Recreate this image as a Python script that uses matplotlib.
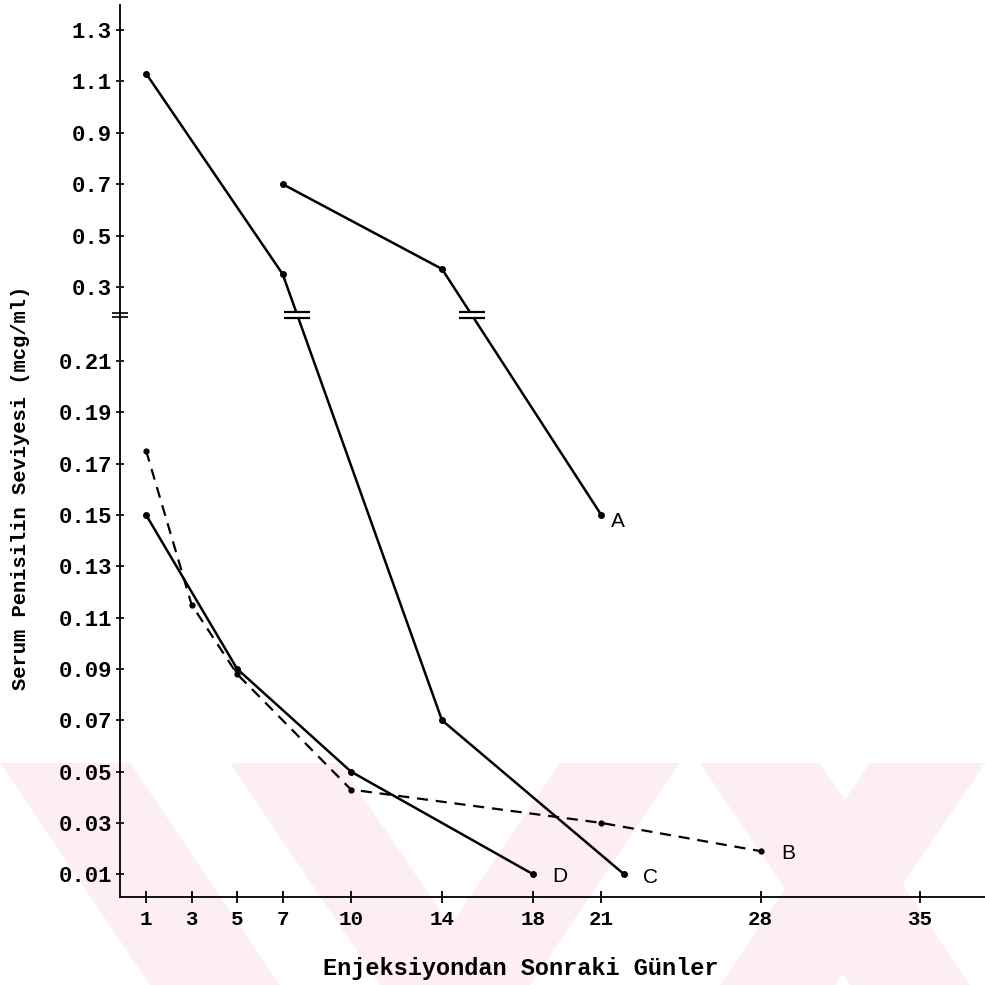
import numpy as np
import matplotlib
matplotlib.use("Agg")
import matplotlib.pyplot as plt
from matplotlib.path import Path
from matplotlib.patches import Polygon

# values
days_a = [7, 14, 21]
conc_a = [0.70, 0.37, 0.15]
days_b = [1, 3, 5, 10, 21, 28]
conc_b = [0.175, 0.115, 0.088, 0.043, 0.030, 0.019]
days_c = [1, 7, 14, 22]
conc_c = [1.13, 0.35, 0.07, 0.01]
days_d = [1, 5, 10, 18]
conc_d = [0.15, 0.09, 0.05, 0.01]

x_ticks = [1, 3, 5, 7, 10, 14, 18, 21, 28, 35]
y_ticks = [0.01, 0.03, 0.05, 0.07, 0.09, 0.11, 0.13, 0.15, 0.17, 0.19, 0.21,
           0.3, 0.5, 0.7, 0.9, 1.1, 1.3]
y_labels = ["0.01", "0.03", "0.05", "0.07", "0.09", "0.11", "0.13", "0.15",
            "0.17", "0.19", "0.21", "0.3", "0.5", "0.7", "0.9", "1.1", "1.3"]

# broken y axis: fine scale below the break, coarse scale above it
BRK = 0.228
LO_K = 2565.0
HI_K = 257.0
HI_BASE = 612.65


def fwd(v):
    v = np.asarray(v, dtype=float)
    return np.where(v <= BRK, v * LO_K, HI_BASE + (v - 0.3) * HI_K)


def inv(u):
    u = np.asarray(u, dtype=float)
    hi = np.maximum(0.3 + (u - HI_BASE) / HI_K, BRK)
    return np.where(u <= BRK * LO_K, u / LO_K, hi)


def crossing(days, vals):
    ub = fwd(BRK)
    for i in range(len(days) - 1):
        u0, u1 = fwd(vals[i]), fwd(vals[i + 1])
        if u0 > ub >= u1:
            t = (u0 - ub) / (u0 - u1)
            return days[i] + t * (days[i + 1] - days[i])
    return None


mono = "Liberation Mono"
fig = plt.figure(figsize=(9.85, 9.85), dpi=100)

# pale watermark stripes in the lower part of the page
wm_color = "#fdeef1"
bands = [
    [(0, 763), (130, 763), (280, 985), (150, 985)],
    [(230, 763), (340, 763), (490, 985), (380, 985)],
    [(560, 763), (680, 763), (530, 985), (410, 985)],
    [(700, 763), (820, 763), (970, 985), (850, 985)],
    [(870, 763), (985, 763), (835, 985), (720, 985)],
]
for b in bands:
    pts = [(px / 985, 1 - py / 985) for px, py in b]
    fig.patches.append(Polygon(pts, closed=True, transform=fig.transFigure,
                               facecolor=wm_color, edgecolor="none", zorder=-10))

ax = fig.add_axes([0.122, 0.089, 0.878, 0.906])
ax.set_zorder(1)
ax.patch.set_alpha(0)
ax.set_yscale("function", functions=(fwd, inv))
ax.set_xlim(-0.14, 37.86)
ax.set_ylim(0.001, 1.397)

lw = 1.8
ax.plot(days_c, conc_c, color="black", lw=lw, marker="o", ms=4)
ax.plot(days_a, conc_a, color="black", lw=lw, marker="o", ms=4)
ax.plot(days_d, conc_d, color="black", lw=lw, marker="o", ms=4)
ax.plot(days_b, conc_b, color="black", lw=1.6, ls=(0, (5, 3.5)), marker="o", ms=3.5)

off = [(days_a, conc_a, "A", (12, -5)), (days_b, conc_b, "B", (20, -2)),
       (days_c, conc_c, "C", (19, -2)), (days_d, conc_d, "D", (19, -1.5))]
for d, c, name, xy in off:
    ax.annotate(name, (d[-1], c[-1]), xytext=xy, textcoords="offset points",
                ha="center", va="center", fontsize=15, family="Liberation Sans")

# break marks on the lines and on the y axis
gap = Path([(-1, 0.2), (1, 0.2), (1, -0.2), (-1, -0.2), (-1, 0.2)],
           [Path.MOVETO, Path.LINETO, Path.LINETO, Path.LINETO, Path.CLOSEPOLY])
bars = Path([(-1, 0.2), (1, 0.2), (-1, -0.2), (1, -0.2)],
            [Path.MOVETO, Path.LINETO, Path.MOVETO, Path.LINETO])
for d, c in [(days_c, conc_c), (days_a, conc_a)]:
    xc = crossing(d, c)
    ax.plot([xc], [BRK], marker=gap, ms=19, mfc="white", mec="none", zorder=4)
    ax.plot([xc], [BRK], marker=bars, ms=19, mec="black", mew=1.6, zorder=5)
ax.plot([ax.get_xlim()[0]], [BRK], marker=bars, ms=12, mec="black", mew=1.2,
        zorder=5, clip_on=False)

for s in ["top", "right"]:
    ax.spines[s].set_visible(False)
for s in ["left", "bottom"]:
    ax.spines[s].set_linewidth(1.3)

ax.set_xticks(x_ticks)
ax.set_xticklabels([str(v) for v in x_ticks], fontsize=15, family=mono,
                   fontweight="bold")
ax.set_yticks(y_ticks)
ax.set_yticklabels(y_labels, fontsize=16, family=mono, fontweight="bold")
ax.yaxis.set_minor_locator(matplotlib.ticker.NullLocator())
ax.tick_params(axis="x", direction="inout", length=8, width=1.3, pad=5)
ax.tick_params(axis="y", direction="inout", length=6, width=1.2, pad=3)

fig.text(0.021, 0.505, "Serum Penisilin Seviyesi (mcg/ml)", rotation=90,
         ha="center", va="center", fontsize=14.8, family=mono, fontweight="bold")
fig.text(0.529, 0.017, "Enjeksiyondan Sonraki Günler", ha="center",
         va="center", fontsize=17, family=mono, fontweight="bold")

fig.savefig("out.png", dpi=100)
